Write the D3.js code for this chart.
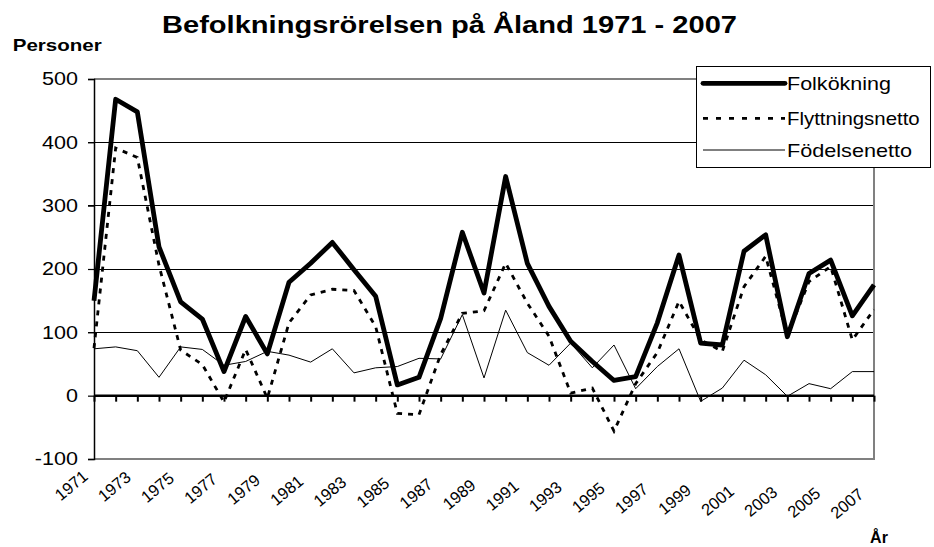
<!DOCTYPE html>
<html><head><meta charset="utf-8">
<script src="https://cdn.jsdelivr.net/npm/d3@7"></script>
<style>
html,body{margin:0;padding:0;background:#fff;}
svg{display:block;font-family:"Liberation Sans",Arial,sans-serif;}
</style></head>
<body>
<svg id="c" width="934" height="547"></svg>
<script>
const years = d3.range(1971, 2008);
const yearLabels = ["1971","1973","1975","1977","1979","1981","1983","1985","1987","1989","1991","1993","1995","1997","1999","2001","2003","2005","2007"];
const folkokning = [150,468,448,235,148,121,38,125,66,179,209,242,199,157,17,29,122,258,162,346,209,141,86,54,24,30,115,222,83,80,228,254,93,193,214,126,175];
const flyttningsnetto = [75,391,376,206,72,49,-10,73,-4,115,159,168,166,109,-28,-30,65,130,134,209,146,94,4,12,-56,19,68,149,88,70,172,220,95,180,204,88,136];
const fodelsenetto = [74,77,71,29,77,73,48,54,70,64,53,74,36,44,46,59,58,128,28,135,68,48,83,44,80,11,46,74,-9,12,56,33,-1,19,11,38,38];
const yTicks = [-100,0,100,200,300,400,500];
const seriesNames = ["Folkökning","Flyttningsnetto","Födelsenetto"];
const titleText = "Befolkningsrörelsen på Åland 1971 - 2007";

const svg = d3.select("#c");
const L = 94, R = 874, T = 79, B = 459;
const x = d3.scaleLinear().domain([0, years.length - 1]).range([L, R]);
const y = d3.scaleLinear().domain([-100, 500]).range([B, T]);

function stretch(sel, k) {
  sel.each(function () {
    const w = this.getComputedTextLength();
    this.setAttribute("textLength", w * k);
    this.setAttribute("lengthAdjust", "spacingAndGlyphs");
  });
}
function fitW(sel, w) {
  sel.attr("textLength", w).attr("lengthAdjust", "spacingAndGlyphs");
}

// gridlines
svg.append("g").selectAll("line").data([100,200,300,400]).join("line")
  .attr("x1", L - 6).attr("x2", R).attr("y1", d => y(d)).attr("y2", d => y(d))
  .attr("stroke", "#000").attr("stroke-width", 1).attr("shape-rendering", "crispEdges");

// plot border (gray) top, right, bottom
svg.append("path")
  .attr("d", `M${L},${y(500)}H${R}V${y(-100)}H${L}`)
  .attr("fill", "none").attr("stroke", "#808080").attr("stroke-width", 2);

// y axis
const yAxis = d3.axisLeft(y).tickValues(yTicks).tickSize(6).tickPadding(10).tickFormat(d => String(d));
const gy = svg.append("g").attr("transform", `translate(${L},0)`).call(yAxis);
gy.select(".domain").attr("stroke", "#000").attr("stroke-width", 1.5);
gy.selectAll(".tick line").attr("stroke", "#000").attr("stroke-width", 1.2);
gy.selectAll(".tick text").attr("font-size", 17.7).attr("fill", "#000")
  .attr("font-family", "'Liberation Sans',Arial,sans-serif").call(stretch, 1.22);

// x axis at zero with ticks for every year
const xAxis = d3.axisBottom(x).tickValues(d3.range(years.length)).tickSize(6).tickFormat("");
const gx = svg.append("g").attr("transform", `translate(0,${y(0)})`).call(xAxis);
gx.select(".domain").attr("stroke", "#000").attr("stroke-width", 2.5).attr("d", `M${L},0H${R}`);
gx.selectAll(".tick line").attr("stroke", "#000").attr("stroke-width", 2);

// x labels
const labelG = svg.append("g");
yearLabels.forEach(lbl => {
  const i = years.indexOf(+lbl);
  const px = x(i) - 5 - i * 0.12, py = 478 + i * 0.5;
  labelG.append("text").attr("x", 0).attr("y", 0)
    .attr("transform", `translate(${px},${py}) rotate(-40)`)
    .attr("text-anchor", "end").attr("font-size", 16.5).text(lbl);
});

// lines
const line = d3.line().x((d, i) => x(i)).y(d => y(d));
svg.append("path").datum(fodelsenetto).attr("d", line)
  .attr("fill", "none").attr("stroke", "#000").attr("stroke-width", 1);
svg.append("path").datum(flyttningsnetto).attr("d", line)
  .attr("fill", "none").attr("stroke", "#000").attr("stroke-width", 2.8)
  .attr("stroke-dasharray", "5,6");
svg.append("path").datum(folkokning).attr("d", line)
  .attr("fill", "none").attr("stroke", "#000").attr("stroke-width", 4.8)
  .attr("stroke-linejoin", "round");

// titles
svg.append("text").attr("x", 449.5).attr("y", 33).attr("text-anchor", "middle")
  .attr("font-size", 23).attr("font-weight", "bold").text(titleText).call(fitW, 575);
svg.append("text").attr("x", 12.7).attr("y", 50.7)
  .attr("font-size", 17).attr("font-weight", "bold").text("Personer").call(fitW, 89);
svg.append("text").attr("x", 879).attr("y", 543).attr("text-anchor", "middle")
  .attr("font-size", 16).attr("font-weight", "bold").text("År");

// legend
const lg = svg.append("g");
lg.append("rect").attr("x", 696.5).attr("y", 66.5).attr("width", 234).attr("height", 101)
  .attr("fill", "#fff").attr("stroke", "#000").attr("stroke-width", 1);
const rowsY = [83.3, 118.3, 150];
const sw = [4.8, 2.8, 1];
const dash = [null, "5,8", null];
const textW = [104, 132.7, 125];
seriesNames.forEach((n, k) => {
  const l = lg.append("line").attr("x1", 703).attr("x2", 785).attr("y1", rowsY[k]).attr("y2", rowsY[k])
    .attr("stroke", "#000").attr("stroke-width", sw[k]).attr("stroke-linecap", k === 0 ? "round" : "butt");
  if (dash[k]) l.attr("stroke-dasharray", dash[k]);
  lg.append("text").attr("x", 787).attr("y", rowsY[k] + 6.5).attr("font-size", 18.5).text(n).call(fitW, textW[k]);
});
</script>
</body></html>
